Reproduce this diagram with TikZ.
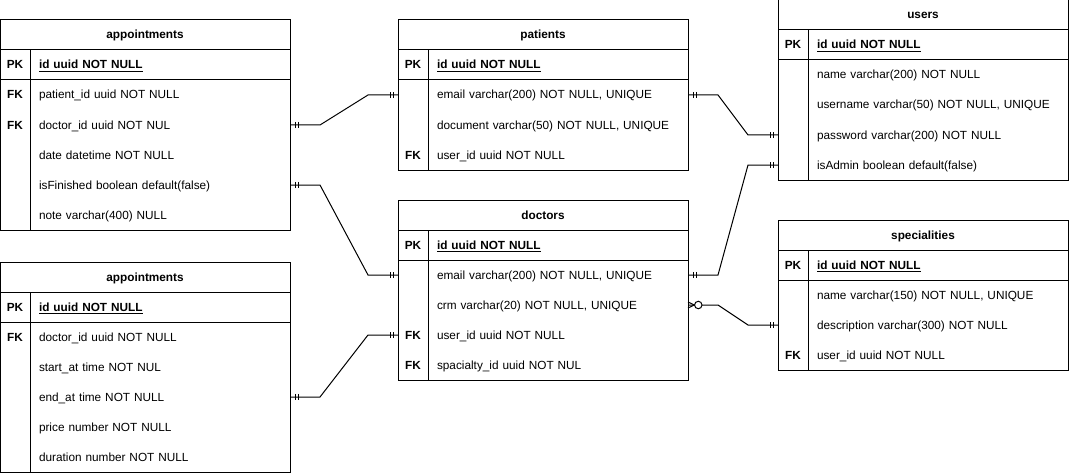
\documentclass[tikz,border=0pt]{standalone}
\usepackage{fontspec}
\setmainfont{Liberation Sans}
\usetikzlibrary{positioning,arrows.meta}

% one and only one
\pgfdeclarearrow{
  name = ERone,
  parameters = {\the\pgfarrowlinewidth},
  setup code = {
    \pgfarrowssettipend{0pt}
    \pgfarrowssetlineend{0pt}
    \pgfarrowssetbackend{-6.5pt}
    \pgfarrowssetvisualbackend{-6.5pt}
    \pgfarrowsupperhullpoint{0pt}{2.5pt}
    \pgfarrowsupperhullpoint{-6.5pt}{2.5pt}
  },
  drawing code = {
    \pgfpathmoveto{\pgfpoint{-3.75pt}{-2.4pt}}
    \pgfpathlineto{\pgfpoint{-3.75pt}{2.4pt}}
    \pgfpathmoveto{\pgfpoint{-6pt}{-2.4pt}}
    \pgfpathlineto{\pgfpoint{-6pt}{2.4pt}}
    \pgfusepathqstroke
  }
}
% zero or many
\pgfdeclarearrow{
  name = ERzeromany,
  parameters = {\the\pgfarrowlinewidth},
  setup code = {
    \pgfarrowssettipend{0pt}
    \pgfarrowssetlineend{0pt}
    \pgfarrowssetbackend{-11.5pt}
    \pgfarrowssetvisualbackend{-11.5pt}
    \pgfarrowsupperhullpoint{0pt}{2.9pt}
    \pgfarrowsupperhullpoint{-11.5pt}{2.9pt}
  },
  drawing code = {
    \pgfpathmoveto{\pgfpoint{0pt}{2.25pt}}
    \pgfpathlineto{\pgfpoint{-4.8pt}{0pt}}
    \pgfpathlineto{\pgfpoint{0pt}{-2.25pt}}
    \pgfusepathqstroke
    \pgfpathcircle{\pgfpoint{-7.7pt}{0pt}}{2.8pt}
    \pgfsetfillcolor{white}
    \pgfusepathqfillstroke
  }
}

\tikzset{
  every node/.style={inner sep=0pt, outer sep=0pt},
  tblhead/.style={draw, line width=0.75pt, minimum width=217.5pt, minimum height=22.5pt,
    text height=6pt, text depth=0pt, font=\fontsize{8.85}{11}\selectfont\bfseries},
  key/.style={minimum width=22.5pt, minimum height=22.5pt, text height=6pt, text depth=0pt,
    font=\fontsize{8.85}{11}\selectfont\bfseries},
  field/.style={minimum height=22.5pt, text width=181.5pt, inner xsep=6.75pt, align=left,
    text height=6pt, text depth=0pt, font=\fontsize{8.85}{11}\selectfont},
  tblline/.style={draw, line width=0.75pt},
  rel/.style={draw, line width=0.75pt, arrows=ERone-ERone}
}

\begin{document}
\begin{tikzpicture}[x=0.75pt, y=-0.75pt]
    \useasboundingbox (0,0) rectangle (1069,474);

    % appointments (top)
    \node[tblhead] (apA) at (145,35) {appointments};
    \node[key, below right=0pt and 0pt of apA.south west] (apA-id-k) {PK};
    \node[field, right=0pt of apA-id-k] (apA-id) {\underline{\textbf{id uuid NOT NULL}}};
    \node[key, below=0pt of apA-id-k] (apA-pid-k) {FK};
    \node[field, right=0pt of apA-pid-k] (apA-pid) {patient\_id uuid NOT NULL};
    \node[key, below=0pt of apA-pid-k] (apA-did-k) {FK};
    \node[field, right=0pt of apA-did-k] (apA-did) {doctor\_id uuid NOT NUL};
    \node[key, below=0pt of apA-did-k] (apA-date-k) {};
    \node[field, right=0pt of apA-date-k] (apA-date) {date datetime NOT NULL};
    \node[key, below=0pt of apA-date-k] (apA-fin-k) {};
    \node[field, right=0pt of apA-fin-k] (apA-fin) {isFinished boolean default(false)};
    \node[key, below=0pt of apA-fin-k] (apA-note-k) {};
    \node[field, right=0pt of apA-note-k] (apA-note) {note varchar(400) NULL};

    % appointments (bottom)
    \node[tblhead] (apB) at (145,277) {appointments};
    \node[key, below right=0pt and 0pt of apB.south west] (apB-id-k) {PK};
    \node[field, right=0pt of apB-id-k] (apB-id) {\underline{\textbf{id uuid NOT NULL}}};
    \node[key, below=0pt of apB-id-k] (apB-did-k) {FK};
    \node[field, right=0pt of apB-did-k] (apB-did) {doctor\_id uuid NOT NULL};
    \node[key, below=0pt of apB-did-k] (apB-start-k) {};
    \node[field, right=0pt of apB-start-k] (apB-start) {start\_at time NOT NUL};
    \node[key, below=0pt of apB-start-k] (apB-end-k) {};
    \node[field, right=0pt of apB-end-k] (apB-end) {end\_at time NOT NULL};
    \node[key, below=0pt of apB-end-k] (apB-price-k) {};
    \node[field, right=0pt of apB-price-k] (apB-price) {price number NOT NULL};
    \node[key, below=0pt of apB-price-k] (apB-dur-k) {};
    \node[field, right=0pt of apB-dur-k] (apB-dur) {duration number NOT NULL};

    % patients
    \node[tblhead] (pat) at (543,35) {patients};
    \node[key, below right=0pt and 0pt of pat.south west] (pat-id-k) {PK};
    \node[field, right=0pt of pat-id-k] (pat-id) {\underline{\textbf{id uuid NOT NULL}}};
    \node[key, below=0pt of pat-id-k] (pat-email-k) {};
    \node[field, right=0pt of pat-email-k] (pat-email) {email varchar(200) NOT NULL, UNIQUE};
    \node[key, below=0pt of pat-email-k] (pat-docu-k) {};
    \node[field, right=0pt of pat-docu-k] (pat-docu) {document varchar(50) NOT NULL, UNIQUE};
    \node[key, below=0pt of pat-docu-k] (pat-uid-k) {FK};
    \node[field, right=0pt of pat-uid-k] (pat-uid) {user\_id uuid NOT NULL};

    % doctors
    \node[tblhead] (doc) at (543,215) {doctors};
    \node[key, below right=0pt and 0pt of doc.south west] (doc-id-k) {PK};
    \node[field, right=0pt of doc-id-k] (doc-id) {\underline{\textbf{id uuid NOT NULL}}};
    \node[key, below=0pt of doc-id-k] (doc-email-k) {};
    \node[field, right=0pt of doc-email-k] (doc-email) {email varchar(200) NOT NULL, UNIQUE};
    \node[key, below=0pt of doc-email-k] (doc-crm-k) {};
    \node[field, right=0pt of doc-crm-k] (doc-crm) {crm varchar(20) NOT NULL, UNIQUE};
    \node[key, below=0pt of doc-crm-k] (doc-uid-k) {FK};
    \node[field, right=0pt of doc-uid-k] (doc-uid) {user\_id uuid NOT NULL};
    \node[key, below=0pt of doc-uid-k] (doc-sid-k) {FK};
    \node[field, right=0pt of doc-sid-k] (doc-sid) {spacialty\_id uuid NOT NUL};

    % users
    \node[tblhead] (usr) at (923,15) {users};
    \node[key, below right=0pt and 0pt of usr.south west] (usr-id-k) {PK};
    \node[field, right=0pt of usr-id-k] (usr-id) {\underline{\textbf{id uuid NOT NULL}}};
    \node[key, below=0pt of usr-id-k] (usr-name-k) {};
    \node[field, right=0pt of usr-name-k] (usr-name) {name varchar(200) NOT NULL};
    \node[key, below=0pt of usr-name-k] (usr-uname-k) {};
    \node[field, right=0pt of usr-uname-k] (usr-uname) {username varchar(50) NOT NULL, UNIQUE};
    \node[key, below=0pt of usr-uname-k] (usr-pwd-k) {};
    \node[field, right=0pt of usr-pwd-k] (usr-pwd) {password varchar(200) NOT NULL};
    \node[key, below=0pt of usr-pwd-k] (usr-adm-k) {};
    \node[field, right=0pt of usr-adm-k] (usr-adm) {isAdmin boolean default(false)};

    % specialities
    \node[tblhead] (spc) at (923,235) {specialities};
    \node[key, below right=0pt and 0pt of spc.south west] (spc-id-k) {PK};
    \node[field, right=0pt of spc-id-k] (spc-id) {\underline{\textbf{id uuid NOT NULL}}};
    \node[key, below=0pt of spc-id-k] (spc-name-k) {};
    \node[field, right=0pt of spc-name-k] (spc-name) {name varchar(150) NOT NULL, UNIQUE};
    \node[key, below=0pt of spc-name-k] (spc-desc-k) {};
    \node[field, right=0pt of spc-desc-k] (spc-desc) {description varchar(300) NOT NULL};
    \node[key, below=0pt of spc-desc-k] (spc-uid-k) {FK};
    \node[field, right=0pt of spc-uid-k] (spc-uid) {user\_id uuid NOT NULL};

    % Table frames
    \foreach \t/\l in {apA/note, apB/dur, pat/uid, doc/sid, usr/adm, spc/uid} {
        \draw[tblline] (\t.north west) rectangle (\t-\l.south east);
        \draw[tblline] (\t-id-k.south west) -- (\t-id.south east);
        \draw[tblline] (\t-id-k.north east) -- (\t-\l-k.south east);
    }

    % Relations
    \draw[rel] (apA-did.east) -- ++(30,0) -- ([xshift=-22.5pt]pat-email-k.west) -- (pat-email-k.west);
    \draw[rel] (apA-fin.east) -- ++(30,0) -- ([xshift=-22.5pt]doc-email-k.west) -- (doc-email-k.west);
    \draw[rel] (apB-end.east) -- ++(30,0) -- ([xshift=-22.5pt]doc-uid-k.west) -- (doc-uid-k.west);
    \draw[rel] (pat-email.east) -- ++(30,0) -- ([xshift=-22.5pt]usr-pwd-k.west) -- (usr-pwd-k.west);
    \draw[rel] (doc-email.east) -- ++(30,0) -- ([xshift=-22.5pt]usr-adm-k.west) -- (usr-adm-k.west);
    \draw[rel, arrows=ERzeromany-ERone] (doc-crm.east) -- ++(30,0) -- ([xshift=-22.5pt]spc-desc-k.west) -- (spc-desc-k.west);
\end{tikzpicture}
\end{document}
